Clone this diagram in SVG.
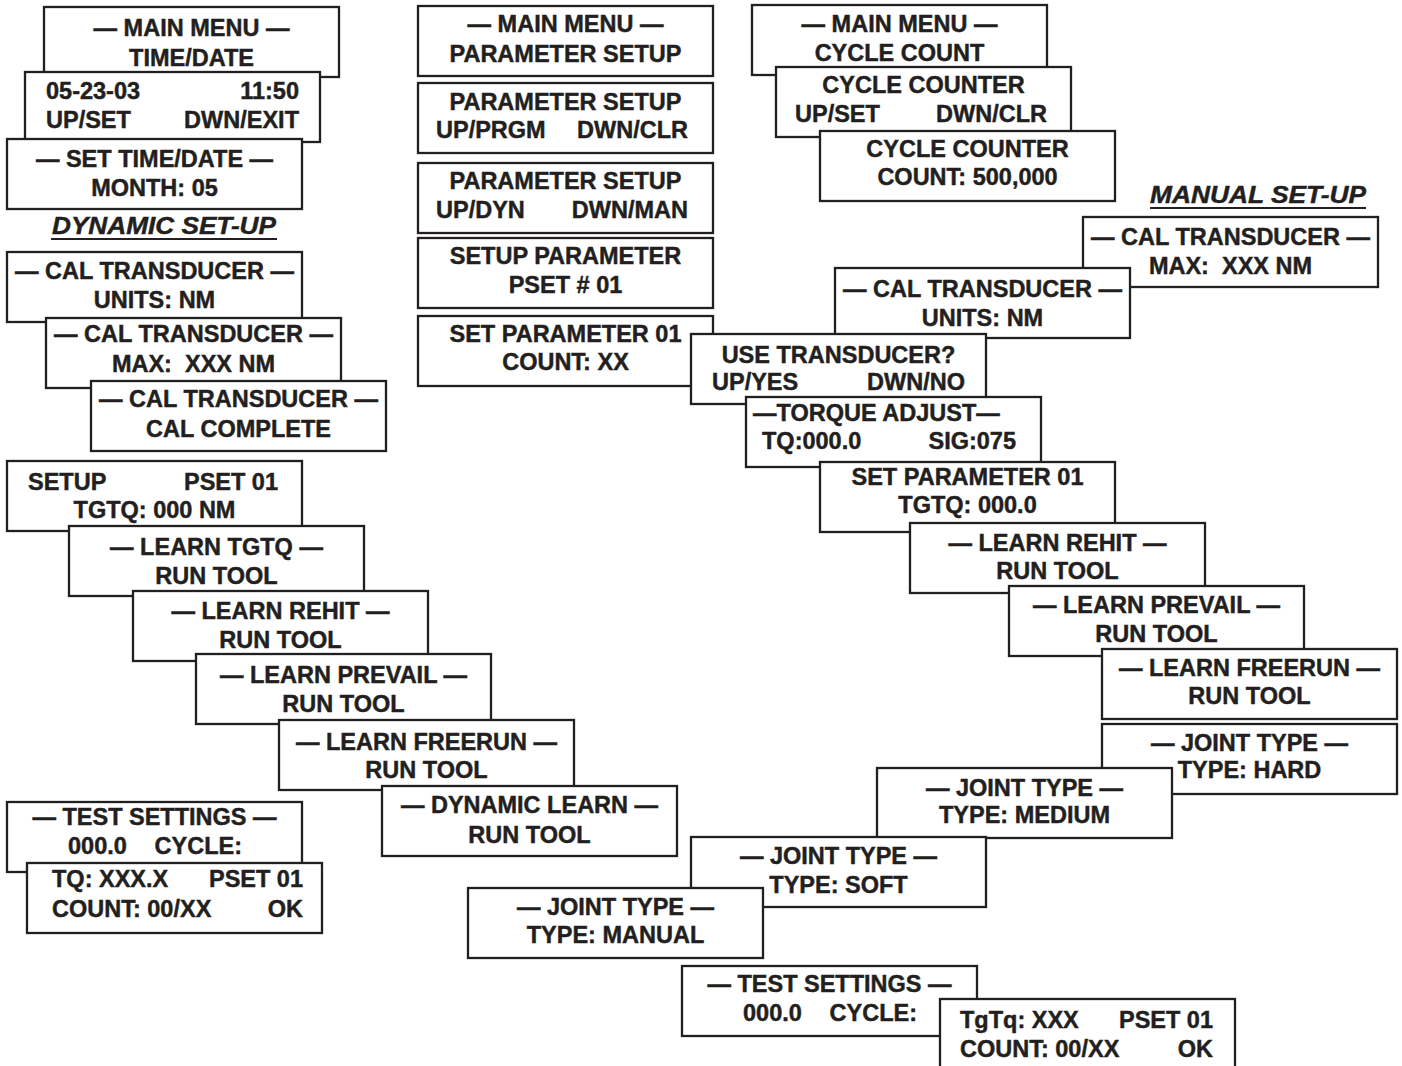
<svg xmlns="http://www.w3.org/2000/svg" width="1402" height="1066" viewBox="0 0 1402 1066">
<style>
.b{fill:#fff;stroke:#231f20;stroke-width:2.3}
text{font-family:"Liberation Sans",Arial,Helvetica,sans-serif;font-weight:bold;font-size:23.5px;fill:#231f20;stroke:#231f20;stroke-width:0.45}
.c{text-anchor:middle}
.e{text-anchor:end}
.h{font-style:italic}
.u{stroke:#231f20;stroke-width:2}
</style>
<rect width="1402" height="1066" fill="#fff"/>
<g id="connectors"></g>

<g id="mm-timedate"><rect class="b" x="44" y="7" width="295" height="70"/><text class="c" x="191.5" y="36">— MAIN MENU —</text><text class="c" x="191.5" y="66">TIME/DATE</text></g>
<g id="clock"><rect class="b" x="25" y="72" width="295" height="70"/><text x="46" y="99">05-23-03</text><text class="e" x="299" y="99">11:50</text><text x="46" y="128">UP/SET</text><text class="e" x="299" y="128">DWN/EXIT</text></g>
<g id="set-timedate"><rect class="b" x="7" y="139" width="295" height="70"/><text class="c" x="154.5" y="167">— SET TIME/DATE —</text><text class="c" x="154.5" y="196">MONTH: 05</text></g>

<g id="label-dynamic"><text class="h" x="52" y="234" textLength="224" lengthAdjust="spacingAndGlyphs">DYNAMIC SET-UP</text><line class="u" x1="51" y1="239" x2="277" y2="239"/></g>

<g id="cal-units-d"><rect class="b" x="7" y="252" width="295" height="70"/><text class="c" x="154.5" y="279">— CAL TRANSDUCER —</text><text class="c" x="154.5" y="308">UNITS: NM</text></g>
<g id="cal-max-d"><rect class="b" x="46" y="318" width="295" height="70"/><text class="c" x="193.5" y="342">— CAL TRANSDUCER —</text><text class="c" x="193.5" y="372">MAX:&#160; XXX NM</text></g>
<g id="cal-complete-d"><rect class="b" x="91" y="381" width="295" height="70"/><text class="c" x="238.5" y="407">— CAL TRANSDUCER —</text><text class="c" x="238.5" y="437">CAL COMPLETE</text></g>

<g id="setup-pset"><rect class="b" x="7" y="461" width="295" height="70"/><text x="28" y="490">SETUP</text><text class="e" x="278" y="490">PSET 01</text><text class="c" x="154.5" y="518">TGTQ: 000 NM</text></g>
<g id="learn-tgtq-d"><rect class="b" x="69" y="526" width="295" height="70"/><text class="c" x="216.5" y="555">— LEARN TGTQ —</text><text class="c" x="216.5" y="584">RUN TOOL</text></g>
<g id="learn-rehit-d"><rect class="b" x="133" y="591" width="295" height="70"/><text class="c" x="280.5" y="619">— LEARN REHIT —</text><text class="c" x="280.5" y="648">RUN TOOL</text></g>
<g id="learn-prevail-d"><rect class="b" x="196" y="654" width="295" height="70"/><text class="c" x="343.5" y="683">— LEARN PREVAIL —</text><text class="c" x="343.5" y="712">RUN TOOL</text></g>
<g id="learn-freerun-d"><rect class="b" x="279" y="720" width="295" height="70"/><text class="c" x="426.5" y="750">— LEARN FREERUN —</text><text class="c" x="426.5" y="778">RUN TOOL</text></g>
<g id="dynamic-learn"><rect class="b" x="382" y="786" width="295" height="70"/><text class="c" x="529.5" y="813">— DYNAMIC LEARN —</text><text class="c" x="529.5" y="843">RUN TOOL</text></g>

<g id="test-settings-d"><rect class="b" x="7" y="802" width="295" height="70"/><text class="c" x="154.5" y="825">— TEST SETTINGS —</text><text x="68" y="854">000.0</text><text class="e" x="242" y="854">CYCLE:</text></g>
<g id="result-d"><rect class="b" x="27" y="863" width="295" height="70"/><text x="52" y="887">TQ: XXX.X</text><text class="e" x="303" y="887">PSET 01</text><text x="52" y="917">COUNT: 00/XX</text><text class="e" x="303" y="917">OK</text></g>

<g id="mm-param"><rect class="b" x="418" y="6" width="295" height="70"/><text class="c" x="565.5" y="32">— MAIN MENU —</text><text class="c" x="565.5" y="62">PARAMETER SETUP</text></g>
<g id="param-prgm"><rect class="b" x="418" y="83" width="295" height="70"/><text class="c" x="565.5" y="110">PARAMETER SETUP</text><text x="436" y="138">UP/PRGM</text><text class="e" x="688" y="138">DWN/CLR</text></g>
<g id="param-dyn"><rect class="b" x="418" y="163" width="295" height="70"/><text class="c" x="565.5" y="189">PARAMETER SETUP</text><text x="436" y="218">UP/DYN</text><text class="e" x="688" y="218">DWN/MAN</text></g>
<g id="setup-param"><rect class="b" x="418" y="238" width="295" height="70"/><text class="c" x="565.5" y="264">SETUP PARAMETER</text><text class="c" x="565.5" y="293">PSET # 01</text></g>
<g id="set-param-count"><rect class="b" x="418" y="316" width="295" height="70"/><text class="c" x="565.5" y="342">SET PARAMETER 01</text><text class="c" x="565.5" y="370">COUNT: XX</text></g>

<g id="mm-cycle"><rect class="b" x="752" y="5" width="295" height="70"/><text class="c" x="899.5" y="32">— MAIN MENU —</text><text class="c" x="899.5" y="61">CYCLE COUNT</text></g>
<g id="cycle-counter-set"><rect class="b" x="776" y="67" width="295" height="70"/><text class="c" x="923.5" y="93">CYCLE COUNTER</text><text x="795" y="122">UP/SET</text><text class="e" x="1047" y="122">DWN/CLR</text></g>
<g id="cycle-count"><rect class="b" x="820" y="131" width="295" height="70"/><text class="c" x="967.5" y="157">CYCLE COUNTER</text><text class="c" x="967.5" y="185">COUNT: 500,000</text></g>

<g id="label-manual"><text class="h" x="1150" y="203" textLength="216" lengthAdjust="spacingAndGlyphs">MANUAL SET-UP</text><line class="u" x1="1150" y1="208" x2="1366" y2="208"/></g>

<g id="cal-max-m"><rect class="b" x="1083" y="217" width="295" height="70"/><text class="c" x="1230.5" y="245">— CAL TRANSDUCER —</text><text class="c" x="1230.5" y="274">MAX:&#160; XXX NM</text></g>
<g id="cal-units-m"><rect class="b" x="835" y="268" width="295" height="70"/><text class="c" x="982.5" y="297">— CAL TRANSDUCER —</text><text class="c" x="982.5" y="326">UNITS: NM</text></g>
<g id="use-transducer"><rect class="b" x="691" y="334" width="295" height="70"/><text class="c" x="838.5" y="363">USE TRANSDUCER?</text><text x="712" y="390">UP/YES</text><text class="e" x="965" y="390">DWN/NO</text></g>
<g id="torque-adjust"><rect class="b" x="746" y="397" width="295" height="70"/><text x="753" y="421">—TORQUE ADJUST—</text><text x="762" y="449">TQ:000.0</text><text class="e" x="1016" y="449">SIG:075</text></g>
<g id="set-param-tgtq"><rect class="b" x="820" y="462" width="295" height="70"/><text class="c" x="967.5" y="485">SET PARAMETER 01</text><text class="c" x="967.5" y="513">TGTQ: 000.0</text></g>
<g id="learn-rehit-m"><rect class="b" x="910" y="523" width="295" height="70"/><text class="c" x="1057.5" y="551">— LEARN REHIT —</text><text class="c" x="1057.5" y="579">RUN TOOL</text></g>
<g id="learn-prevail-m"><rect class="b" x="1009" y="586" width="295" height="70"/><text class="c" x="1156.5" y="613">— LEARN PREVAIL —</text><text class="c" x="1156.5" y="642">RUN TOOL</text></g>
<g id="learn-freerun-m"><rect class="b" x="1102" y="649" width="295" height="70"/><text class="c" x="1249.5" y="676">— LEARN FREERUN —</text><text class="c" x="1249.5" y="704">RUN TOOL</text></g>

<g id="joint-hard"><rect class="b" x="1102" y="724" width="295" height="70"/><text class="c" x="1249.5" y="751">— JOINT TYPE —</text><text class="c" x="1249.5" y="778">TYPE: HARD</text></g>
<g id="joint-medium"><rect class="b" x="877" y="768" width="295" height="70"/><text class="c" x="1024.5" y="796">— JOINT TYPE —</text><text class="c" x="1024.5" y="823">TYPE: MEDIUM</text></g>
<g id="joint-soft"><rect class="b" x="691" y="837" width="295" height="70"/><text class="c" x="838.5" y="864">— JOINT TYPE —</text><text class="c" x="838.5" y="893">TYPE: SOFT</text></g>
<g id="joint-manual"><rect class="b" x="468" y="888" width="295" height="70"/><text class="c" x="615.5" y="915">— JOINT TYPE —</text><text class="c" x="615.5" y="943">TYPE: MANUAL</text></g>

<g id="test-settings-m"><rect class="b" x="682" y="966" width="295" height="70"/><text class="c" x="829.5" y="992">— TEST SETTINGS —</text><text x="743" y="1021">000.0</text><text class="e" x="917" y="1021">CYCLE:</text></g>
<g id="result-m"><rect class="b" x="940" y="999" width="295" height="70"/><text x="960" y="1028">TgTq: XXX</text><text class="e" x="1213" y="1028">PSET 01</text><text x="960" y="1057">COUNT: 00/XX</text><text class="e" x="1213" y="1057">OK</text></g>
</svg>
